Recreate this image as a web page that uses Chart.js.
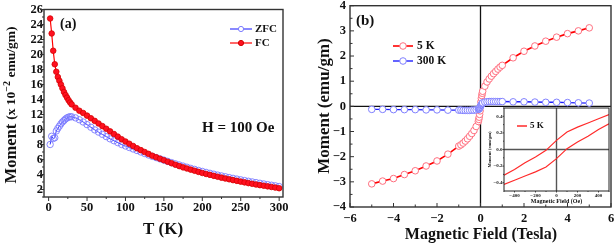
<!DOCTYPE html>
<html>
<head>
<meta charset="utf-8">
<script src="https://cdn.jsdelivr.net/npm/chart.js@4.4.1/dist/chart.umd.min.js"></script>
<style>
  html, body { margin: 0; padding: 0; background: #fff; }
  body { width: 616px; height: 245px; position: relative; overflow: hidden; }
  canvas { position: absolute; }
</style>
</head>
<body>
<canvas id="chartA" width="300" height="245" style="left:0;top:0"></canvas>
<canvas id="chartB" width="316" height="245" style="left:300px;top:0"></canvas>
<canvas id="chartC" width="136" height="110" style="left:478px;top:102px"></canvas>
<script>
// (a) moment vs temperature, H = 100 Oe
var tempK = [2, 4, 6, 8, 10, 12, 14, 16, 18, 20, 22, 24, 26, 28, 30,
  35, 40, 45, 50, 55, 60, 65, 70, 75, 80, 85, 90, 95, 100, 105, 110, 115, 120, 125, 130,
  135, 140, 145, 150, 155, 160, 165, 170, 175, 180, 185, 190, 195, 200, 205, 210, 215, 220, 225, 230,
  235, 240, 245, 250, 255, 260, 265, 270, 275, 280, 285, 290, 295, 300];
var momentFC = [24.8, 22.8, 20.5, 18.7, 17.7, 17.0, 16.5, 16.0, 15.5, 15.0, 14.6, 14.25, 13.9, 13.6, 13.35,
  12.9, 12.5, 12.2, 11.85, 11.5, 11.15, 10.8, 10.45, 10.1, 9.75, 9.4, 9.05, 8.7, 8.4, 8.1, 7.8, 7.5, 7.25, 7.0, 6.75,
  6.5, 6.3, 6.1, 5.9, 5.7, 5.5, 5.3, 5.12, 4.95, 4.8, 4.65, 4.5, 4.35, 4.2, 4.07, 3.95, 3.82, 3.7, 3.58, 3.47,
  3.36, 3.25, 3.15, 3.05, 2.95, 2.85, 2.76, 2.67, 2.58, 2.5, 2.42, 2.34, 2.26, 2.17];
var momentZFC = [8.0, 9.1, 8.8, 8.9, 9.8, 10.15, 10.45, 10.75, 11.0, 11.2, 11.4, 11.55, 11.65, 11.7, 11.7,
  11.55, 11.3, 11.0, 10.65, 10.3, 9.95, 9.65, 9.35, 9.05, 8.75, 8.5, 8.25, 8.0, 7.8, 7.6, 7.4, 7.2, 7.0, 6.8, 6.6,
  6.42, 6.25, 6.08, 5.92, 5.75, 5.58, 5.42, 5.27, 5.12, 4.97, 4.82, 4.68, 4.54, 4.41, 4.28, 4.16, 4.04, 3.92, 3.81, 3.7,
  3.59, 3.49, 3.39, 3.29, 3.19, 3.1, 3.01, 2.92, 2.83, 2.74, 2.65, 2.57, 2.49, 2.4];
var tempTicks = [0, 50, 100, 150, 200, 250, 300];
var fcTicks = [2, 4, 6, 8, 10, 12, 14, 16, 18, 20, 22, 24, 26];

// (b) moment vs field at 5 K and 300 K
var fieldT = [-5, -4.5, -4, -3.5, -3, -2.5, -2, -1.5, -1, -0.9, -0.8, -0.7, -0.6, -0.5, -0.4, -0.3, -0.2, -0.1,
  -0.08, -0.06, -0.04, -0.02, 0, 0.02, 0.04, 0.06, 0.08,
  0.1, 0.2, 0.3, 0.4, 0.5, 0.6, 0.7, 0.8, 0.9, 1, 1.5, 2, 2.5, 3, 3.5, 4, 4.5, 5];
var moment5K = [-3.08, -2.97, -2.87, -2.71, -2.56, -2.37, -2.17, -1.9, -1.58, -1.53, -1.46, -1.38, -1.29, -1.19, -1.08, -0.96, -0.8, -0.6,
  -0.52, -0.43, -0.32, -0.18, 0, 0.18, 0.32, 0.43, 0.52,
  0.6, 0.8, 0.97, 1.09, 1.2, 1.3, 1.39, 1.48, 1.56, 1.63, 1.93, 2.19, 2.4, 2.59, 2.75, 2.89, 3.0, 3.12];
var moment300K = [-0.12, -0.12, -0.13, -0.13, -0.13, -0.14, -0.14, -0.15, -0.15, -0.15, -0.16, -0.16, -0.16, -0.16, -0.15, -0.15, -0.14, -0.12,
  -0.11, -0.09, -0.07, -0.04, 0, 0.04, 0.07, 0.1, 0.12,
  0.14, 0.17, 0.18, 0.19, 0.19, 0.19, 0.19, 0.19, 0.19, 0.19, 0.18, 0.18, 0.17, 0.16, 0.16, 0.15, 0.14, 0.13];
var fieldTicks = [-6, -4, -2, 0, 2, 4, 6];
var mhTicks = [-4, -3, -2, -1, 0, 1, 2, 3, 4];

// inset: 5 K loop at low field
var fieldOe = [-500, -400, -300, -200, -100, 0, 100, 200, 300, 400, 500];
var loopUpper = [-0.31, -0.24, -0.16, -0.09, -0.01, 0.11, 0.21, 0.27, 0.32, 0.37, 0.42];
var loopLower = [-0.42, -0.37, -0.32, -0.27, -0.21, -0.11, 0.01, 0.09, 0.16, 0.24, 0.31];
var oeTicks = [-400, -200, 0, 200, 400];
var insetTicks = [-0.4, -0.2, 0, 0.2, 0.4];

(function() {
  'use strict';

  var SERIF = '"Liberation Serif", "Times New Roman", serif';
  function bold(px) { return 'bold ' + px + 'px ' + SERIF; }
  function pts(xs, ys) { return xs.map(function(x, i) { return { x: x, y: ys[i] }; }); }
  function minus(v) { return String(v).replace('-', '\u2212'); }

  function useTicks(list) {
    return function(scale) { scale.ticks = list.map(function(v) { return { value: v }; }); };
  }
  function fixSize(size) {
    return function(scale) {
      if (scale.isHorizontal()) scale.height = size; else scale.width = size;
      scale.paddingLeft = scale.paddingRight = scale.paddingTop = scale.paddingBottom = 0;
    };
  }

  function drawText(ctx, item) {
    var parts = item.parts || [{ t: item.t, font: item.font }];
    ctx.save();
    ctx.translate(item.x, item.y);
    if (item.rot) ctx.rotate(item.rot * Math.PI / 180);
    ctx.fillStyle = item.color || '#111';
    ctx.textBaseline = 'middle';
    ctx.textAlign = 'left';
    var total = 0;
    parts.forEach(function(p) { ctx.font = p.font; total += ctx.measureText(p.t).width; });
    var x = item.align === 'left' ? 0 : (item.align === 'right' ? -total : -total / 2);
    parts.forEach(function(p) {
      ctx.font = p.font;
      ctx.fillText(p.t, x, p.dy || 0);
      x += ctx.measureText(p.t).width;
    });
    ctx.restore();
  }

  function drawKey(ctx, k) {
    ctx.save();
    ctx.strokeStyle = k.color;
    ctx.lineWidth = k.lw;
    ctx.beginPath(); ctx.moveTo(k.x1, k.y); ctx.lineTo(k.x2, k.y); ctx.stroke();
    if (k.r) {
      ctx.beginPath();
      ctx.arc((k.x1 + k.x2) / 2, k.y, k.r, 0, 2 * Math.PI);
      ctx.fillStyle = k.fill; ctx.fill();
      ctx.lineWidth = 1; ctx.strokeStyle = k.stroke; ctx.stroke();
    }
    ctx.restore();
    drawText(ctx, { t: k.label, x: k.x2 + k.gap, y: k.y, font: k.font, align: 'left' });
  }

  function tickMarks(ctx, scale, o, area) {
    var major = scale.ticks.map(function(t) { return t.value; });
    var step = major.length > 1 ? major[1] - major[0] : 0;
    var minor = [];
    for (var i = -1; i < major.length; i++) {
      var v = (i < 0 ? major[0] - step : major[i]) + step / 2;
      if (v >= scale.min && v <= scale.max) minor.push(v);
    }
    var sign = o.dir === 'in' ? -1 : 1;
    ctx.beginPath();
    [[major, o.major], [minor, o.minor]].forEach(function(set) {
      set[0].forEach(function(v) {
        var p = scale.getPixelForValue(v);
        if (scale.isHorizontal()) { ctx.moveTo(p, area.bottom); ctx.lineTo(p, area.bottom + sign * set[1]); }
        else { ctx.moveTo(area.left, p); ctx.lineTo(area.left - sign * set[1], p); }
      });
    });
    ctx.stroke();
  }

  var deco = {
    id: 'deco',
    beforeDraw: function(chart, args, o) {
      var a = chart.chartArea, ctx = chart.ctx;
      if (!o.white) return;
      ctx.save(); ctx.fillStyle = '#fff';
      ctx.fillRect(a.left, a.top, a.right - a.left, a.bottom - a.top);
      ctx.restore();
    },
    beforeDatasetsDraw: function(chart, args, o) {
      if (!o.zero) return;
      var a = chart.chartArea, ctx = chart.ctx;
      var x0 = chart.scales.x.getPixelForValue(0), y0 = chart.scales.y.getPixelForValue(0);
      ctx.save();
      ctx.strokeStyle = o.zero.color; ctx.lineWidth = o.zero.width;
      ctx.beginPath();
      ctx.moveTo(x0, a.top); ctx.lineTo(x0, a.bottom);
      ctx.moveTo(a.left, y0); ctx.lineTo(a.right, y0);
      ctx.stroke();
      ctx.restore();
    },
    afterDatasetsDraw: function(chart, args, o) {
      var a = chart.chartArea, ctx = chart.ctx;
      ctx.save();
      ctx.strokeStyle = o.frameColor; ctx.lineWidth = o.frameWidth;
      ctx.strokeRect(a.left, a.top, a.right - a.left, a.bottom - a.top);
      ctx.lineWidth = o.tickWidth;
      tickMarks(ctx, chart.scales.x, o, a);
      tickMarks(ctx, chart.scales.y, o, a);
      ctx.restore();
    },
    afterDraw: function(chart, args, o) {
      var ctx = chart.ctx;
      (o.texts || []).forEach(function(t) { drawText(ctx, t); });
      (o.keys || []).forEach(function(k) { drawKey(ctx, k); });
    }
  };

  function axis(min, max, list, size, font, pad, fmt) {
    return {
      type: 'linear', min: min, max: max,
      afterBuildTicks: useTicks(list),
      afterFit: fixSize(size),
      grid: { display: false, drawTicks: false },
      border: { display: false },
      ticks: { font: font, color: '#111', padding: pad, autoSkip: false, maxRotation: 0, callback: fmt || function(v) { return v; } }
    };
  }

  function base(padding, scales, decoOpts, datasets) {
    return {
      type: 'scatter',
      data: { datasets: datasets },
      options: {
        responsive: false, animation: false, devicePixelRatio: 1,
        layout: { padding: padding },
        scales: scales,
        plugins: { legend: { display: false }, tooltip: { enabled: false }, deco: decoOpts }
      },
      plugins: [deco]
    };
  }

  // (a)
  new Chart(document.getElementById('chartA'), base(
    { left: 0, top: 9.5, right: 17, bottom: 0 },
    {
      x: axis(-6, 305, tempTicks, 48, { family: SERIF, weight: 'bold', size: 12.5 }, 3),
      y: axis(1, 26, fcTicks, 44, { family: SERIF, weight: 'bold', size: 12.5 }, 1)
    },
    {
      dir: 'out', major: 4, minor: 2, tickWidth: 1, frameColor: '#333', frameWidth: 1.4,
      texts: [
        { t: '(a)', x: 60, y: 24, font: bold(14), align: 'left' },
        { t: 'H = 100 Oe', x: 202, y: 128, font: bold(15), align: 'left' },
        { t: 'T (K)', x: 163, y: 230, font: bold(17) },
        { x: 12, y: 105, rot: -90, parts: [
          { t: 'Moment ', font: bold(16.5) },
          { t: '(x 10', font: bold(13.5) },
          { t: '\u22122', font: bold(10), dy: -5 },
          { t: ' emu/gm)', font: bold(13.5) }
        ] }
      ],
      keys: [
        { x1: 230, x2: 252, y: 29, color: '#3b3bff', lw: 1.2, r: 2.6, fill: '#fff', stroke: '#7b7bff', label: 'ZFC', gap: 3, font: bold(11) },
        { x1: 230, x2: 252, y: 43, color: '#ff0000', lw: 1.2, r: 2.6, fill: '#ff1020', stroke: '#d00000', label: 'FC', gap: 3, font: bold(11) }
      ]
    },
    [
      { label: 'FC', data: pts(tempK, momentFC), showLine: true, borderColor: '#ff0000', borderWidth: 1.2,
        pointRadius: 2.8, pointBackgroundColor: '#ff1020', pointBorderColor: '#d40000', pointBorderWidth: 0.8 },
      { label: 'ZFC', data: pts(tempK, momentZFC), showLine: true, borderColor: '#3b3bff', borderWidth: 1,
        pointRadius: 3.2, pointBackgroundColor: 'rgba(255,255,255,0)', pointBorderColor: '#7b7bff', pointBorderWidth: 0.9 }
    ]
  ));

  // (b)
  new Chart(document.getElementById('chartB'), base(
    { left: 0, top: 5.7, right: 4, bottom: 0 },
    {
      x: axis(-6, 6, fieldTicks, 38, { family: SERIF, weight: 'bold', size: 12.5 }, 4, minus),
      y: axis(-4, 4, mhTicks, 50, { family: SERIF, weight: 'bold', size: 12.5 }, 4, minus)
    },
    {
      dir: 'in', major: 4, minor: 2.5, tickWidth: 1, frameColor: '#333', frameWidth: 1.4,
      zero: { color: '#111', width: 1.3 },
      texts: [
        { t: '(b)', x: 56, y: 21, font: bold(15), align: 'left' },
        { t: 'Moment (emu/gm)', x: 25, y: 106, rot: -90, font: bold(17) },
        { t: 'Magnetic Field (Tesla)', x: 181, y: 235, font: bold(16) }
      ],
      keys: [
        { x1: 93, x2: 113, y: 46, color: '#ff0000', lw: 1.6, r: 3.3, fill: '#fff', stroke: '#ff6f7f', label: '5 K', gap: 4, font: bold(11.5) },
        { x1: 93, x2: 113, y: 61, color: '#2020ff', lw: 1.4, r: 3.3, fill: '#fff', stroke: '#7f7fff', label: '300 K', gap: 4, font: bold(11.5) }
      ]
    },
    [
      { label: '300 K', data: pts(fieldT, moment300K), showLine: true, borderColor: '#2020ff', borderWidth: 1.4,
        pointRadius: 3.3, pointBackgroundColor: '#fff', pointBorderColor: '#7f7fff', pointBorderWidth: 1 },
      { label: '5 K', data: pts(fieldT, moment5K), showLine: true, borderColor: '#ff0000', borderWidth: 1.6,
        pointRadius: 3.3, pointBackgroundColor: '#fff', pointBorderColor: '#ff6f7f', pointBorderWidth: 1 }
    ]
  ));

  // inset
  new Chart(document.getElementById('chartC'), base(
    { left: 0, top: 6, right: 5, bottom: 0 },
    {
      x: axis(-500, 500, oeTicks, 21, { family: SERIF, weight: 'bold', size: 5 }, 1.5, minus),
      y: axis(-0.5, 0.5, insetTicks, 26, { family: SERIF, weight: 'bold', size: 5 }, 1.5,
        function(v) { return minus(v.toFixed(1)); })
    },
    {
      white: true, dir: 'out', major: 1.5, minor: 1, tickWidth: 0.8, frameColor: '#222', frameWidth: 1,
      zero: { color: '#555', width: 1.4 },
      texts: [
        { t: 'Moment (emu/gm)', x: 12, y: 47.5, rot: -90, font: bold(4.5) },
        { t: 'Magnetic Field (Oe)', x: 78.5, y: 99, font: bold(6) }
      ],
      keys: [
        { x1: 39, x2: 49, y: 24, color: '#ff2a2a', lw: 1.5, label: '5 K', gap: 3, font: bold(9) }
      ]
    },
    [
      { label: 'upper', data: pts(fieldOe, loopUpper), showLine: true, borderColor: '#ff2a2a', borderWidth: 1.2, pointRadius: 0 },
      { label: 'lower', data: pts(fieldOe, loopLower), showLine: true, borderColor: '#ff2a2a', borderWidth: 1.2, pointRadius: 0 }
    ]
  ));
})();
</script>
</body>
</html>
